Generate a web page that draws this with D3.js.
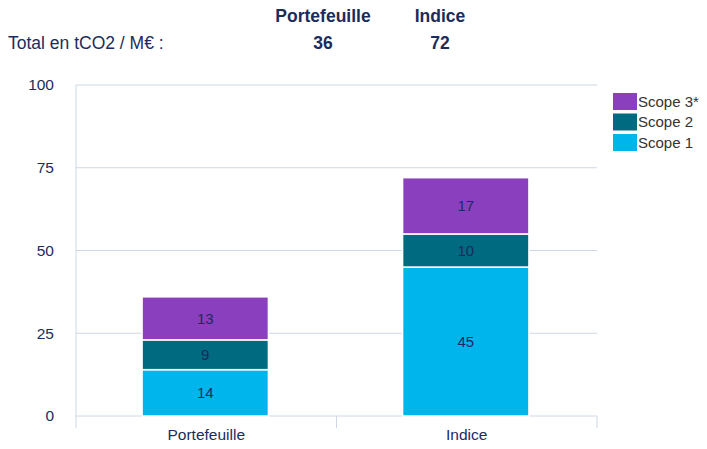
<!DOCTYPE html>
<html>
<head>
<meta charset="utf-8">
<script src="https://cdn.jsdelivr.net/npm/d3@7"></script>
<style>
  body { margin: 0; background: #fff; }
  svg { font-family: "Liberation Sans", Arial, Helvetica, sans-serif; }
</style>
</head>
<body>
<svg id="chart" width="707" height="449"></svg>
<script>
// données
const categories = ["Portefeuille", "Indice"];
const scopes = ["Scope 1", "Scope 2", "Scope 3*"];
const scope1 = [14, 45];
const scope2 = [9, 10];
const scope3 = [13, 17];
const totals = [36, 72];
const yTicks = [0, 25, 50, 75, 100];

const colors = { "Scope 1": "#00b5ec", "Scope 2": "#006a80", "Scope 3*": "#8a3fbf" };
const navy = "#1b2c5c";
const gridColor = "#cdd8e6";

const svg = d3.select("#chart");
const margin = { left: 76, right: 110, top: 85, bottom: 33 };
const width = 707 - margin.left - margin.right;
const height = 449 - margin.top - margin.bottom;

const g = svg.append("g").attr("transform", `translate(${margin.left},${margin.top})`);

const x = d3.scaleBand().domain(categories).range([0, width]).paddingInner(0).paddingOuter(0);
const y = d3.scaleLinear().domain([0, 100]).range([height, 0]);

// grille horizontale
g.selectAll(".grid")
  .data(yTicks)
  .enter()
  .append("line")
  .attr("x1", 0)
  .attr("x2", width)
  .attr("y1", d => y(d))
  .attr("y2", d => y(d))
  .attr("stroke", gridColor)
  .attr("stroke-width", 1);

// axe Y
const yAxis = g.append("g").call(d3.axisLeft(y).tickValues(yTicks).tickSize(0).tickPadding(22));
yAxis.select(".domain").remove();
yAxis.selectAll("text").attr("fill", navy).attr("font-size", 15.5);

// axe vertical + séparateurs
g.append("line").attr("x1", 0).attr("x2", 0).attr("y1", 0).attr("y2", height + 12)
  .attr("stroke", gridColor);
const seps = categories.map(c => x(c) + x.bandwidth());
g.selectAll(".sep")
  .data(seps)
  .enter()
  .append("line")
  .attr("x1", d => d).attr("x2", d => d)
  .attr("y1", height).attr("y2", height + 12)
  .attr("stroke", gridColor);

// axe X
const xAxis = g.append("g").attr("transform", `translate(0,${height})`)
  .call(d3.axisBottom(x).tickSize(0).tickPadding(13));
xAxis.select(".domain").remove();
xAxis.selectAll("text").attr("fill", navy).attr("font-size", 15.5);

// empilement
const rows = categories.map((c, i) => ({ cat: c, "Scope 1": scope1[i], "Scope 2": scope2[i], "Scope 3*": scope3[i] }));
const stacked = d3.stack().keys(scopes)(rows);
const barW = x.bandwidth() * 0.485;

const layers = g.selectAll(".layer")
  .data(stacked)
  .enter()
  .append("g")
  .attr("fill", d => colors[d.key]);

layers.selectAll("rect")
  .data(d => d)
  .enter()
  .append("rect")
  .attr("x", d => x(d.data.cat) + (x.bandwidth() - barW) / 2 - 1)
  .attr("width", barW)
  .attr("y", d => y(d[1]))
  .attr("height", d => y(d[0]) - y(d[1]))
  .attr("stroke", "#fff")
  .attr("stroke-width", 1.5);

layers.selectAll("text")
  .data(d => d)
  .enter()
  .append("text")
  .attr("x", d => x(d.data.cat) + x.bandwidth() / 2 - 1)
  .attr("y", d => (y(d[0]) + y(d[1])) / 2)
  .attr("dy", "0.35em")
  .attr("text-anchor", "middle")
  .attr("fill", navy)
  .attr("font-size", 15)
  .text(d => d[1] - d[0]);

// en-tête
svg.append("text").attr("x", 8).attr("y", 49).attr("fill", navy).attr("font-size", 17.5)
  .text("Total en tCO2 / M€ :");
const headX = [323, 440];
categories.forEach((c, i) => {
  svg.append("text").attr("x", headX[i]).attr("y", 22).attr("text-anchor", "middle")
    .attr("fill", navy).attr("font-size", 17.5).attr("font-weight", "bold").text(c);
  svg.append("text").attr("x", headX[i]).attr("y", 49).attr("text-anchor", "middle")
    .attr("fill", navy).attr("font-size", 17.5).attr("font-weight", "bold").text(totals[i]);
});

// légende
const legendItems = scopes.slice().reverse();
const legend = svg.append("g").attr("transform", "translate(613,93)");
legendItems.forEach((s, i) => {
  legend.append("rect").attr("x", 0).attr("y", i * 20.5).attr("width", 24).attr("height", 17)
    .attr("fill", colors[s]);
  legend.append("text").attr("x", 25).attr("y", i * 20.5 + 8.5).attr("dy", "0.35em")
    .attr("fill", "#333").attr("font-size", 15).text(s);
});
</script>
</body>
</html>
